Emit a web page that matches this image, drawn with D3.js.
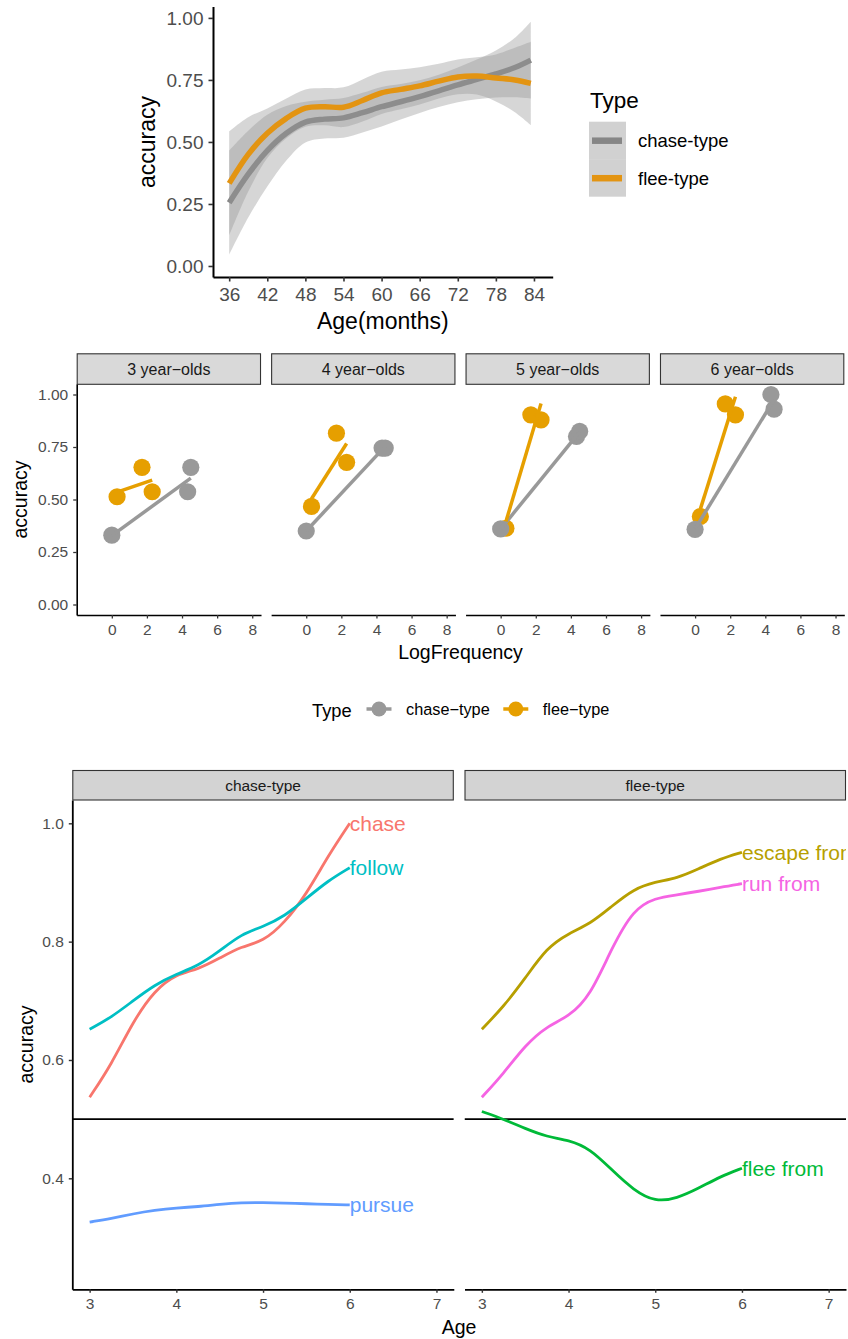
<!DOCTYPE html>
<html>
<head>
<meta charset="utf-8">
<script src="https://cdn.jsdelivr.net/npm/d3@7"></script>
<style>
  body { margin: 0; background: #fff; }
  svg { display: block; font-family: "Liberation Sans", Arial, Helvetica, sans-serif; }
  .axis .tick text { fill: #4d4d4d; }
  .axis .tick line { stroke: #333; }
  .axis .domain { stroke: #000; }
</style>
</head>
<body>
<svg id="chart" width="848" height="1339"></svg>
<script>
// ── TOP PANEL: smoothed accuracy by age in months ────────────────────────────
const ageMonths = [36, 39, 42, 45, 48, 51, 54, 57, 60, 63, 66, 69, 72, 75, 78, 81, 83.5];
const chaseFit  = [0.255, 0.370, 0.465, 0.535, 0.580, 0.592, 0.597, 0.618, 0.642, 0.662, 0.683, 0.706, 0.730, 0.752, 0.774, 0.800, 0.830];
const chaseSe   = [0.210, 0.175, 0.145, 0.110, 0.082, 0.078, 0.080, 0.080, 0.080, 0.072, 0.066, 0.065, 0.070, 0.080, 0.095, 0.120, 0.155];
const fleeFit   = [0.333, 0.450, 0.535, 0.595, 0.636, 0.642, 0.640, 0.667, 0.698, 0.712, 0.726, 0.745, 0.762, 0.766, 0.758, 0.750, 0.736];
const fleeSe    = [0.210, 0.150, 0.100, 0.080, 0.075, 0.075, 0.080, 0.085, 0.085, 0.080, 0.075, 0.070, 0.070, 0.075, 0.095, 0.130, 0.168];
const monthTicks = [36, 42, 48, 54, 60, 66, 72, 78, 84];
const accTicks   = [0, 0.25, 0.5, 0.75, 1];

// ── MIDDLE PANEL: accuracy by log frequency, per age group ───────────────────
const ageGroups   = ['3 year\u2212olds', '4 year\u2212olds', '5 year\u2212olds', '6 year\u2212olds'];
const verbs       = ['chase', 'escape from', 'flee from', 'follow', 'pursue', 'run from'];
const verbType    = ['chase-type', 'flee-type', 'flee-type', 'chase-type', 'chase-type', 'flee-type'];
const verbLogFreq = [4.32, 1.72, 0.3, 4.5, 0, 2.3];
// mean accuracy at 3, 4, 5, 6 years
const ptChase  = [0.537, 0.745, 0.800, 1.000];
const ptEscape = [0.653, 0.816, 0.903, 0.955];
const ptFlee   = [0.513, 0.467, 0.363, 0.419];
const ptFollow = [0.653, 0.745, 0.825, 0.930];
const ptPursue = [0.330, 0.350, 0.360, 0.358];
const ptRun    = [0.537, 0.677, 0.879, 0.903];
const freqTicks = [0, 2, 4, 6, 8];

// ── BOTTOM PANEL: smoothed accuracy by age (years), per verb ─────────────────
const ageYears     = [3, 3.25, 3.5, 3.75, 4, 4.25, 4.5, 4.75, 5, 5.25, 5.5, 5.75, 6];
const curveChase   = [0.537, 0.592, 0.665, 0.718, 0.745, 0.753, 0.772, 0.792, 0.800, 0.832, 0.880, 0.945, 1.000];
const curveEscape  = [0.652, 0.690, 0.738, 0.790, 0.814, 0.830, 0.860, 0.889, 0.901, 0.907, 0.923, 0.940, 0.951];
const curveFlee    = [0.513, 0.500, 0.484, 0.470, 0.465, 0.450, 0.414, 0.380, 0.360, 0.366, 0.383, 0.403, 0.417];
const curveFollow  = [0.652, 0.672, 0.700, 0.727, 0.745, 0.759, 0.784, 0.813, 0.825, 0.843, 0.873, 0.903, 0.925];
const curvePursue  = [0.326, 0.332, 0.340, 0.346, 0.350, 0.352, 0.356, 0.359, 0.359, 0.358, 0.357, 0.356, 0.355];
const curveRun     = [0.537, 0.577, 0.625, 0.657, 0.673, 0.708, 0.790, 0.855, 0.874, 0.879, 0.885, 0.892, 0.898];
const types      = ['chase-type', 'flee-type'];
const yearTicks  = [3, 4, 5, 6, 7];
const acc3Ticks  = [0.4, 0.6, 0.8, 1.0];
const chanceLine = 0.5;

// ── COLOURS ──────────────────────────────────────────────────────────────────
const typeColor  = d3.scaleOrdinal(types, ['#999999', '#E69F00']);
const smoothColor = d3.scaleOrdinal(types, ['#868686', '#E39412']);
const verbColor  = d3.scaleOrdinal(verbs, ['#F8766D', '#B79F00', '#00BA38', '#00BFC4', '#619CFF', '#F564E3']);

const svg = d3.select('#chart');
svg.append('rect').attr('width', 848).attr('height', 1339).attr('fill', '#fff');

function styleAxis(g, fontSize, width) {
  g.attr('class', 'axis').attr('font-size', fontSize).attr('font-family', null);
  g.select('.domain').attr('stroke-width', width);
  g.selectAll('.tick line').attr('stroke-width', width * 0.8);
}

// ════════════════════════════════════════════════════════════════════════════
// TOP PANEL
// ════════════════════════════════════════════════════════════════════════════
const x1 = d3.scaleLinear().domain([33.45, 86.95]).range([213, 552.7]);
const y1 = d3.scaleLinear().domain([-0.0444, 1.046]).range([277, 6.5]);

const smoothRows = [
  { type: 'chase-type', pts: ageMonths.map((a, i) => ({ a, fit: chaseFit[i], se: chaseSe[i] })) },
  { type: 'flee-type',  pts: ageMonths.map((a, i) => ({ a, fit: fleeFit[i],  se: fleeSe[i] })) }
];

const ribbon = d3.area()
  .x(d => x1(d.a))
  .y0(d => y1(d.fit - d.se))
  .y1(d => y1(d.fit + d.se))
  .curve(d3.curveCatmullRom);
const fitLine = d3.line()
  .x(d => x1(d.a))
  .y(d => y1(d.fit))
  .curve(d3.curveCatmullRom);

const topG = svg.append('g');
smoothRows.forEach(s => {
  topG.append('path').attr('d', ribbon(s.pts)).attr('fill', '#999').attr('fill-opacity', 0.4);
  topG.append('path').attr('d', fitLine(s.pts)).attr('fill', 'none')
    .attr('stroke', smoothColor(s.type)).attr('stroke-width', 5.5);
});

topG.append('g').attr('transform', 'translate(213,0)')
  .call(d3.axisLeft(y1).tickValues(accTicks).tickFormat(d3.format('.2f'))
    .tickSize(4.5).tickPadding(5).tickSizeOuter(0))
  .call(styleAxis, 19, 2);
topG.append('g').attr('transform', 'translate(0,277)')
  .call(d3.axisBottom(x1).tickValues(monthTicks).tickSize(4.5).tickPadding(6).tickSizeOuter(0))
  .call(styleAxis, 19, 2);

topG.append('text').attr('x', 382.8).attr('y', 329).attr('text-anchor', 'middle')
  .attr('font-size', 23).text('Age(months)');
topG.append('text').attr('transform', 'translate(155,142) rotate(-90)')
  .attr('text-anchor', 'middle').attr('font-size', 23).text('accuracy');

// legend
const leg1 = topG.append('g');
leg1.append('text').attr('x', 590).attr('y', 107.5).attr('font-size', 22.5).text('Type');
types.forEach((t, i) => {
  const ky = 121.7 + i * 37.5;
  leg1.append('rect').attr('x', 589).attr('y', ky).attr('width', 37).attr('height', 37.5)
    .attr('fill', '#999').attr('fill-opacity', 0.45);
  leg1.append('line').attr('x1', 592).attr('x2', 622).attr('y1', ky + 19).attr('y2', ky + 19)
    .attr('stroke', smoothColor(t)).attr('stroke-width', 6.5);
  leg1.append('text').attr('x', 638).attr('y', ky + 25.5).attr('font-size', 18.5).text(t);
});

// ════════════════════════════════════════════════════════════════════════════
// MIDDLE PANEL
// ════════════════════════════════════════════════════════════════════════════
const ptAcc = [ptChase, ptEscape, ptFlee, ptFollow, ptPursue, ptRun];
const facet2 = d3.scaleBand().domain(ageGroups).range([76.7, 844.3]).paddingInner(0.052);
const x2 = d3.scaleLinear().domain([-2, 8.5]).range([0, facet2.bandwidth()]);
const y2 = d3.scaleLinear().domain([-0.05, 1.05]).range([615, 384]);

function lmEnds(xs, ys) {
  const mx = d3.mean(xs), my = d3.mean(ys);
  const b = d3.sum(xs, (x, i) => (x - mx) * (ys[i] - my)) / d3.sum(xs, x => (x - mx) ** 2);
  const [lo, hi] = d3.extent(xs);
  return [[lo, my + b * (lo - mx)], [hi, my + b * (hi - mx)]];
}

ageGroups.forEach((g, gi) => {
  const fg = svg.append('g').attr('transform', `translate(${facet2(g)},0)`);
  const w = facet2.bandwidth();

  // strip
  fg.append('rect').attr('x', 0.5).attr('y', 353.8).attr('width', w - 1).attr('height', 30.5)
    .attr('fill', '#d9d9d9').attr('stroke', '#333').attr('stroke-width', 1.1);
  fg.append('text').attr('x', w / 2).attr('y', 374.5).attr('text-anchor', 'middle')
    .attr('font-size', 16).attr('fill', '#1a1a1a').text(g);

  // points (data order)
  const rows = verbs.map((v, vi) => ({ v, type: verbType[vi], lf: verbLogFreq[vi], acc: ptAcc[vi][gi] }));
  fg.selectAll('circle').data(rows).join('circle')
    .attr('cx', d => x2(d.lf)).attr('cy', d => y2(d.acc)).attr('r', 8.6)
    .attr('fill', d => typeColor(d.type));

  // linear fits
  types.forEach(t => {
    const sub = rows.filter(r => r.type === t);
    const ends = lmEnds(sub.map(r => r.lf), sub.map(r => r.acc));
    fg.append('path')
      .attr('d', d3.line().x(d => x2(d[0])).y(d => y2(d[1]))(ends))
      .attr('stroke', typeColor(t)).attr('stroke-width', 3.5).attr('fill', 'none');
  });

  fg.append('g').attr('transform', 'translate(0,615)')
    .call(d3.axisBottom(x2).tickValues(freqTicks).tickSize(3.5).tickPadding(5).tickSizeOuter(0))
    .call(styleAxis, 15.5, 1.6);
  if (gi === 0) {
    fg.append('g')
      .call(d3.axisLeft(y2).tickValues(accTicks).tickFormat(d3.format('.2f'))
        .tickSize(3.5).tickPadding(5).tickSizeOuter(0))
      .call(styleAxis, 15.5, 1.6);
  }
});

svg.append('text').attr('x', 460.5).attr('y', 658.5).attr('text-anchor', 'middle')
  .attr('font-size', 19.5).text('LogFrequency');
svg.append('text').attr('transform', 'translate(27,499.5) rotate(-90)')
  .attr('text-anchor', 'middle').attr('font-size', 19.5).text('accuracy');

// legend
const leg2 = svg.append('g');
leg2.append('text').attr('x', 312).attr('y', 716.5).attr('font-size', 18.3).text('Type');
const legKeys2 = [
  { t: 'chase-type', label: 'chase\u2212type', cx: 379 },
  { t: 'flee-type',  label: 'flee\u2212type',  cx: 515.8 }
];
legKeys2.forEach(k => {
  leg2.append('line').attr('x1', k.cx - 12.5).attr('x2', k.cx + 12.5).attr('y1', 709).attr('y2', 709)
    .attr('stroke', typeColor(k.t)).attr('stroke-width', 3.5);
  leg2.append('circle').attr('cx', k.cx).attr('cy', 709).attr('r', 7.5).attr('fill', typeColor(k.t));
  leg2.append('text').attr('x', k.cx + 27).attr('y', 715).attr('font-size', 16.3).text(k.label);
});

// ════════════════════════════════════════════════════════════════════════════
// BOTTOM PANEL
// ════════════════════════════════════════════════════════════════════════════
const curveAcc = [curveChase, curveEscape, curveFlee, curveFollow, curvePursue, curveRun];
const facet3 = d3.scaleBand().domain(types).range([72.3, 846]).paddingInner(0.0273);
const x3 = d3.scaleLinear().domain([2.8, 7.2]).range([0, facet3.bandwidth()]);
const y3 = d3.scaleLinear().domain([0.2124, 1.0394]).range([1289.3, 800]);
const verbLine = d3.line()
  .x(d => x3(d[0]))
  .y(d => y3(d[1]))
  .curve(d3.curveBasis);

const defs = svg.append('defs');
types.forEach((t, ti) => {
  const w = facet3.bandwidth();
  const fg = svg.append('g').attr('transform', `translate(${facet3(t)},0)`);

  defs.append('clipPath').attr('id', `clip3-${ti}`)
    .append('rect').attr('x', 0).attr('y', 800).attr('width', w).attr('height', 489.3);

  fg.append('rect').attr('x', 0.5).attr('y', 770.5).attr('width', w - 1).attr('height', 29.5)
    .attr('fill', '#d3d3d3').attr('stroke', '#333').attr('stroke-width', 1.1);
  fg.append('text').attr('x', w / 2).attr('y', 790.5).attr('text-anchor', 'middle')
    .attr('font-size', 15.5).attr('fill', '#1a1a1a').text(t);

  // panel contents are clipped to the panel, as in the original
  const plot = fg.append('g').attr('clip-path', `url(#clip3-${ti})`);

  plot.append('line').attr('x1', 0).attr('x2', w)
    .attr('y1', y3(chanceLine)).attr('y2', y3(chanceLine))
    .attr('stroke', '#000').attr('stroke-width', 1.8);

  verbs.forEach((v, vi) => {
    if (verbType[vi] !== t) return;
    const pts = ageYears.map((a, i) => [a, curveAcc[vi][i]]);
    plot.append('path').attr('d', verbLine(pts)).attr('fill', 'none')
      .attr('stroke', verbColor(v)).attr('stroke-width', 2.8);
    const last = pts[pts.length - 1];
    plot.append('text').attr('x', x3(last[0])).attr('y', y3(last[1]))
      .attr('dy', '0.36em').attr('font-size', 21).attr('fill', verbColor(v)).text(v);
  });

  fg.append('g').attr('transform', 'translate(0,1289.3)')
    .call(d3.axisBottom(x3).tickValues(yearTicks).tickFormat(d3.format('d'))
      .tickSize(3.5).tickPadding(5).tickSizeOuter(0))
    .call(styleAxis, 15.5, 1.8);
  if (ti === 0) {
    fg.append('g')
      .call(d3.axisLeft(y3).tickValues(acc3Ticks).tickFormat(d3.format('.1f'))
        .tickSize(3.5).tickPadding(5).tickSizeOuter(0))
      .call(styleAxis, 15.5, 1.8);
  }
});

svg.append('text').attr('x', 459).attr('y', 1334).attr('text-anchor', 'middle')
  .attr('font-size', 19.5).text('Age');
svg.append('text').attr('transform', 'translate(33,1044.5) rotate(-90)')
  .attr('text-anchor', 'middle').attr('font-size', 19.5).text('accuracy');
</script>
</body>
</html>
